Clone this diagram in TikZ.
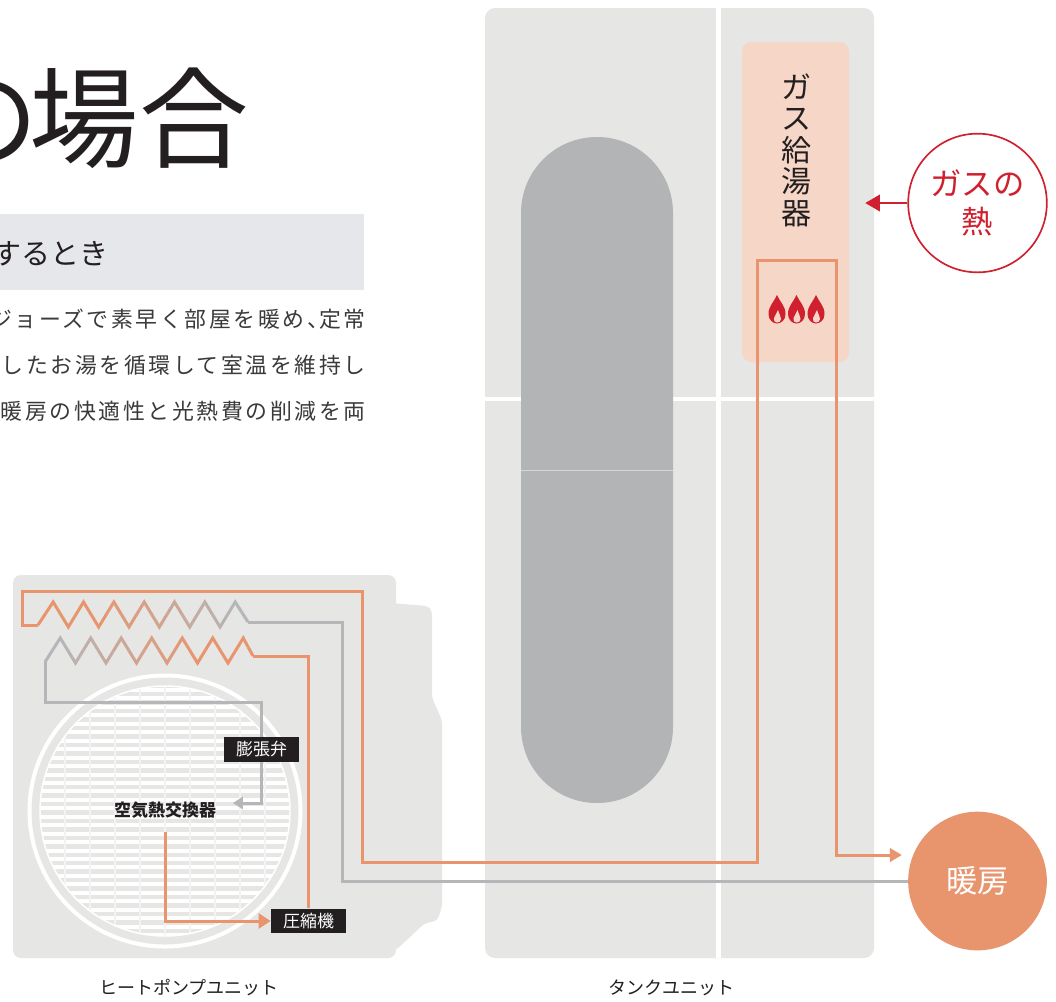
\documentclass[tikz,border=0pt]{standalone}
\usepackage{fontspec}
\setmainfont{Noto Sans CJK JP}
\newfontfamily\bodyfont[LetterSpace=12]{Noto Sans CJK JP}
\usetikzlibrary{arrows.meta,calc}

\definecolor{hot}{HTML}{E8956E}
\definecolor{cold}{HTML}{B5B6B8}
\definecolor{bodyg}{HTML}{E6E6E5}
\definecolor{tankg}{HTML}{B3B4B6}
\definecolor{pinkbox}{HTML}{F6D6C6}
\definecolor{gasred}{HTML}{D01F2E}
\definecolor{labelblack}{HTML}{231F20}
\definecolor{textc}{HTML}{3A3A3A}
\definecolor{bandc}{HTML}{E6E7EA}
\definecolor{grillv}{HTML}{F3F3F3}

\pgfdeclarelayer{front}
\pgfsetlayers{main,front}

\begin{document}
\begin{tikzpicture}[x=0.75pt,y=-0.75pt,
  pipe/.style={line width=2.25pt, line join=miter},
  hotpipe/.style={pipe, draw=hot},
  coldpipe/.style={pipe, draw=cold},
  tag/.style={fill=labelblack, text=white, inner sep=0pt,
    minimum width=56.25pt, minimum height=18.5pt,
    font=\fontsize{12.75}{13}\selectfont},
  caption/.style={text=labelblack, font=\fontsize{13.5}{14}\selectfont},
  body/.style={anchor=base east, inner sep=0pt, text=textc,
    font=\bodyfont\fontsize{16.4}{16}\selectfont}]

\useasboundingbox (0,0) rectangle (1056,1001);
\clip (0,0) rectangle (1056,1001);
\fill[white] (0,0) rectangle (1056,1001);

% ---------- heading and explanation ----------
\node[anchor=base west, inner sep=0pt, text=labelblack,
  font=\fontsize{82}{82}\selectfont] (title) at (-71,159) {の\kern-0.08em 場合};
\fill[bandc] (0,214) rectangle (364,290);
\node[anchor=base east, inner sep=0pt, text=labelblack,
  font=\fontsize{21.75}{22}\selectfont] (sub) at (109,264.5) {するとき};
\node[body] (l1) at (366,327) {ジョーズで素早く部屋を暖め、\kern-0.45em定常};
\node[body] (l2) at (366,373) {かしたお湯を循環して室温を維持し};
\node[body] (l3) at (366,419) {暖房の快適性と光熱費の削減を両};

% ---------- heat pump unit casing ----------
\fill[bodyg, rounded corners=6pt] (13,575) rectangle (396,958);
\fill[bodyg, rounded corners=3pt] (390,603) -- (428,606) -- (432,611)
  -- (432,698) -- (442,720) -- (442,907) -- (437,921) -- (425,923)
  -- (396,950) -- (390,950) -- cycle;

% fan grille
\begin{scope}
  \clip (165,811) circle[radius=125];
  \foreach \k in {0,...,30} {
    \fill[white] (30,{688+8.45*\k}) rectangle (300,{692+8.45*\k});
  }
  \foreach \k in {0,...,9} {
    \draw[grillv, line width=1.9pt] ({40+25*\k},680) -- ({40+25*\k},940);
  }
\end{scope}
\draw[white, line width=1.1pt] (165,811) circle[radius=125];
\draw[white, line width=3pt] (165,811) circle[radius=135.5];

% ---------- tank unit ----------
\fill[bodyg, rounded corners=7.5pt] (485,8) rectangle (874,958);
\fill[white] (716,8) rectangle (721,958);
\fill[white] (485,396.5) rectangle (874,400.5);
\fill[tankg, rounded corners=56.9pt] (521,137) rectangle (673,803);
\draw[white!45!tankg, line width=0.75pt] (521,470) -- (673,470);

% gas water heater
\node[fill=pinkbox, rounded corners=7pt, inner sep=0pt,
  minimum width=80.25pt, minimum height=240pt] (heater) at (795.5,202) {};
\node[inner sep=0pt, align=center, text=labelblack,
  font=\fontsize{22.5}{23.6}\selectfont] (heatername) at (796,150)
  {ガ\\ス\\給\\湯\\器};

% ---------- outer circles ----------
\node[circle, draw=gasred, line width=1.25pt, fill=white, minimum size=104pt,
  inner sep=0pt, align=center, text=gasred,
  font=\fontsize{23.5}{29}\selectfont] (gas) at (977.5,203) {ガスの\\熱};
\node[circle, fill=hot, minimum size=104pt, inner sep=0pt, text=white,
  font=\fontsize{23.5}{24}\selectfont] (heat) at (977.5,881) {暖房};

% ---------- coils ----------
\coordinate (ct0) at (38,625);
\coordinate (ct14) at (248,622);
\coordinate (cb0) at (45,662);
\coordinate (cb14) at (253,656);

% upper coil (water side), orange on the left fading to grey on the right
\foreach \k in {1,...,13} {
  \pgfmathsetmacro\xp{38+15.17*(\k-1)}
  \pgfmathsetmacro\xc{38+15.17*\k}
  \pgfmathsetmacro\xn{\k==13 ? 248 : 38+15.17*(\k+1)}
  \pgfmathsetmacro\yp{\k==1 ? 625 : (isodd(\k-1) ? 602 : 627)}
  \pgfmathsetmacro\yc{isodd(\k) ? 602 : 627}
  \pgfmathsetmacro\yn{\k==13 ? 622 : (isodd(\k+1) ? 602 : 627)}
  \pgfmathtruncatemacro\p{min(100,100*(13-\k)/9)}
  \draw[pipe, draw=hot!\p!cold]
    ($(\xp,\yp)!0.5!(\xc,\yc)$) -- (\xc,\yc) -- ($(\xc,\yc)!0.5!(\xn,\yn)$);
}
\draw[hotpipe] (ct0) -- ($(ct0)!0.5!(53.17,602)$);
\draw[coldpipe] ($(235.2,602)!0.5!(ct14)$) -- (ct14);

% lower coil (refrigerant side), grey on the left turning orange on the right
\foreach \k in {1,...,13} {
  \pgfmathsetmacro\xp{45+15.25*(\k-1)}
  \pgfmathsetmacro\xc{45+15.25*\k}
  \pgfmathsetmacro\xn{\k==13 ? 253 : 45+15.25*(\k+1)}
  \pgfmathsetmacro\yp{\k==1 ? 662 : (isodd(\k-1) ? 638 : 663)}
  \pgfmathsetmacro\yc{isodd(\k) ? 638 : 663}
  \pgfmathsetmacro\yn{\k==13 ? 656 : (isodd(\k+1) ? 638 : 663)}
  \pgfmathtruncatemacro\p{min(100,100*(\k-1)/9)}
  \draw[pipe, draw=hot!\p!cold]
    ($(\xp,\yp)!0.5!(\xc,\yc)$) -- (\xc,\yc) -- ($(\xc,\yc)!0.5!(\xn,\yn)$);
}
\draw[coldpipe] (cb0) -- ($(cb0)!0.5!(60.25,638)$);
\draw[hotpipe] ($(243.25,638)!0.5!(cb14)$) -- (cb14);

% ---------- component labels (kept in front of the pipes) ----------
\begin{pgfonlayer}{front}
  \node[tag] (exv) at (261.5,749.5) {膨張弁};
  \node[tag] (comp) at (308.5,921) {圧縮機};
\end{pgfonlayer}
\node[inner sep=0pt, text=labelblack,
  font=\fontsize{12.75}{13}\selectfont\bfseries] (ahx) at (165,810) {空気熱交換器};

% ---------- refrigerant circuit ----------
\coordinate (rc1) at (45,702);
\coordinate (rc2) at (261.5,803);
\draw[coldpipe] (cb0) -- (rc1) -| (exv.north);
\draw[coldpipe, -{Triangle[length=7.5pt,width=9pt]}, shorten >=12.5pt]
  (exv.south) -- (rc2) -- (rc2 -| ahx.east);
\draw[hotpipe] (cb14) -| (comp.north);
\draw[hotpipe, -{Triangle[length=9pt,width=11pt]}, shorten <=10pt]
  (ahx.south) |- (comp.west);

% ---------- heating water circuit ----------
\coordinate (w1) at (22,625);
\coordinate (w2) at (22,591);
\coordinate (w3) at (362,591);
\coordinate (w4) at (362,862);
\coordinate (w5) at (757,862);
\coordinate (w6) at (757,260);
\coordinate (w7) at (836,260);
\coordinate (w8) at (836,855);
\draw[hotpipe, -{Triangle[length=9pt,width=10pt]}, shorten >=4.5pt]
  (ct0) -- (w1) -- (w2) -- (w3) -- (w4) -- (w5) -- (w6) -- (w7) -- (w8)
  -- (w8 -| heat.west);
\coordinate (r1) at (342,881);
\draw[coldpipe] (heat.west) -- (r1) |- (ct14);

% flames of the gas burner
\foreach \cx in {777,796.5,816} {
  \fill[gasred] (\cx,295) .. controls (\cx+3,302) and (\cx+8.5,306) .. (\cx+8.5,314)
    .. controls (\cx+8.5,320) and (\cx+4,323.5) .. (\cx,323.5)
    .. controls (\cx-4,323.5) and (\cx-8.5,320) .. (\cx-8.5,314)
    .. controls (\cx-8.5,306) and (\cx-3,302) .. (\cx,295) -- cycle;
  \fill[pinkbox] (\cx+1,310) .. controls (\cx+2,314) and (\cx+4,316) .. (\cx+4,319)
    .. controls (\cx+4,321.5) and (\cx+2,322.5) .. (\cx,322.5)
    .. controls (\cx-2.5,322.5) and (\cx-3.5,320.5) .. (\cx-3,318)
    .. controls (\cx-2.5,315) and (\cx+0.5,313) .. (\cx+1,310) -- cycle;
}

% gas heat feeding the water heater
\draw[gasred, line width=1.1pt, -{Triangle[length=11pt,width=12.5pt]},
  shorten >=12pt] (gas.west) -- (gas.west -| heater.east);

% ---------- unit captions ----------
\node[caption] (hpcap) at (189,988) {ヒートポンプユニット};
\node[caption] (tankcap) at (671.5,988) {タンクユニット};
\end{tikzpicture}
\end{document}
